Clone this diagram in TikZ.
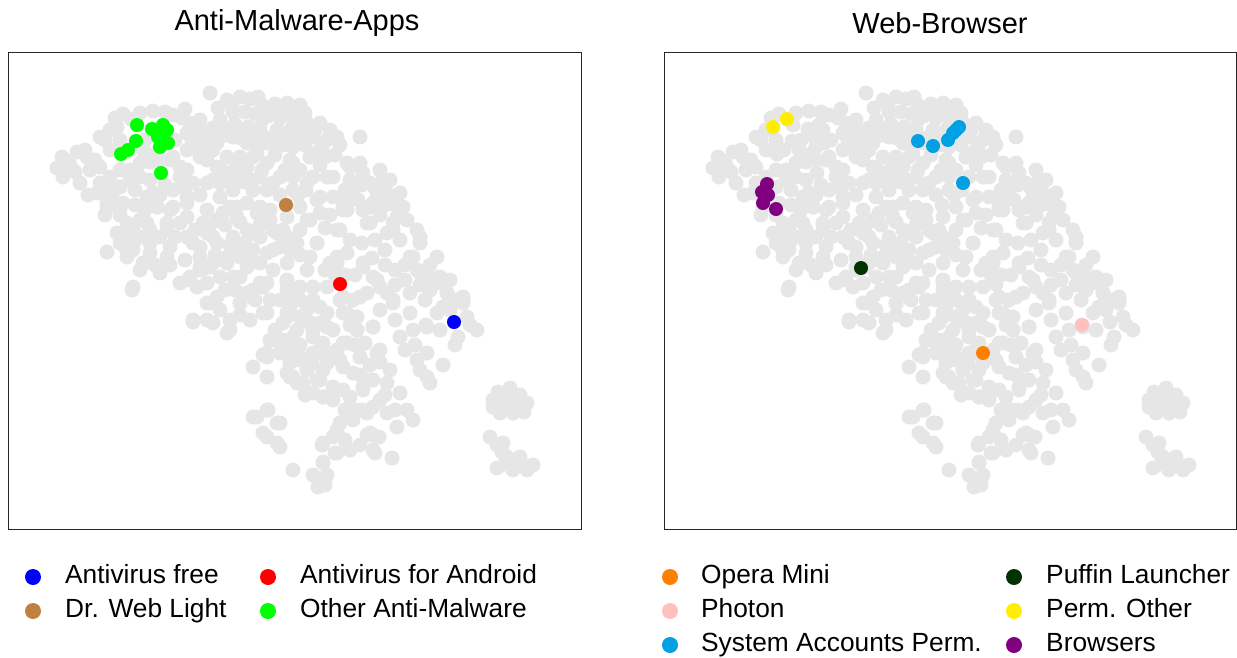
\documentclass[tikz,border=0pt]{standalone}
\usepackage{fontspec}
\setmainfont{Liberation Sans}
\definecolor{cloud}{RGB}{230,230,230}
\definecolor{cbrown}{RGB}{192,128,64}
\definecolor{corange}{RGB}{255,127,0}
\definecolor{cpink}{RGB}{255,192,192}
\definecolor{csky}{RGB}{0,160,226}
\definecolor{cdkgreen}{RGB}{0,51,0}
\definecolor{cyellow}{RGB}{255,238,0}
\definecolor{cpurple}{RGB}{128,0,128}
\tikzset{
  frame/.style={draw=black!85, line width=1pt},
  ttl/.style={font=\fontsize{29}{33}\selectfont, inner sep=0},
  leg/.style={font=\fontsize{26.3}{30}\selectfont, anchor=mid west, inner sep=0},
}
\def\graypts{210/93,227/100,240/97,250/99,262/105,275/104,287/103,300/105,233/112,245/112,255/114,268/116,280/118,293/117,307/123,320/123,330/130,220/120,235/124,248/127,260/128,213/128,205/138,225/135,240/138,255/140,270/138,283/133,300/133,313/137,327/140,360/137,337/137,283/145,293/147,310/157,317/153,293/163,327/177,347/163,360/163,350/167,363/173,380/170,383/180,387/193,373/203,400/193,403/207,393/223,370/223,340/197,317/200,310/220,337/230,343/210,353/197,283/230,297/243,317/243,347/253,337/263,363/267,377/280,413/257,420/237,417/230,437/257,420/273,437/283,447/293,463/297,287/283,377/197,370/207,397/217,407/220,393/230,420/243,410/257,417/270,430/277,440/277,430/290,463/300,333/197,347/210,340/230,350/197,
115/118,123/114,153/111,173/115,182/118,190/123,200/130,187/133,200/143,187/150,200/152,173/157,180/167,160/160,143/150,150/162,140/163,140/177,170/160,180/177,173/190,153/193,157/207,170/210,187/170,200/157,213/150,217/167,207/183,220/183,233/177,247/167,257/153,267/143,277/130,293/140,290/160,280/177,293/190,217/143,233/137,247/143,227/157,240/157,253/157,267/163,260/177,240/177,267/190,253/190,233/190,220/197,207/210,230/207,247/203,257/213,237/217,217/220,100/137,105/140,110/130,
62/157,57/168,77/152,87/157,90/170,63/177,80/183,100/167,100/183,110/177,97/193,110/197,120/187,123/203,107/207,70/165,120/170,130/180,
117/233,127/223,140/220,150/230,167/230,180/223,187/237,207/233,200/247,217/243,233/237,247/230,260/237,273/230,287/237,290/250,273/250,253/250,240/257,227/263,213/263,200/267,190/277,180/283,160/273,143/263,127/257,107/252,120/243,133/250,150/253,167/257,170/247,133/287,233/277,247/267,260/263,273/270,287/263,287/283,267/283,253/290,147/197,157/207,173/207,187/197,187/217,167/223,147/223,133/227,140/237,127/237,
287/217,307/220,320/213,343/207,367/223,387/233,383/197,370/183,317/243,337/257,363/263,373/277,387/293,393/303,360/297,343/297,330/263,347/313,357/317,373/327,380/350,357/330,343/343,360/357,327/327,320/307,327/287,307/270,313/287,287/280,293/297,307/310,287/317,297/330,280/343,313/337,320/353,300/357,267/357,263/313,240/303,247/293,260/283,240/277,250/263,267/253,280/247,293/240,277/233,253/233,240/250,227/257,210/267,200/270,190/280,207/283,220/277,217/297,207/303,193/320,213/323,230/320,227/333,203/223,213/237,193/243,223/213,237/207,260/207,253/190,233/187,213/180,193/183,187/203,273/183,293/177,313/177,333/177,353/190,320/197,300/207,390/180,
132/290,197/287,210/303,193/322,207/320,230/330,240/303,263/287,267/313,280/300,290/310,283/323,283/340,290/350,267/353,253/367,267/377,287/373,297/383,253/417,267/410,277/423,263/433,277/443,293/470,
263/355,280/353,290/363,290/377,307/370,303/383,317/380,323/397,327/363,320/350,337/350,347/343,343/367,353/373,360/357,350/397,363/387,370/380,362/410,373/407,377/353,370/433,373/450,257/417,268/410,280/423,267/437,280/447,337/430,340/423,333/437,322/445,335/453,323/463,313/475,327/475,318/487,325/485,320/480,
287/290,300/287,313/300,327/313,300/317,287/313,313/330,293/337,287/353,300/360,313/353,323/343,333/330,343/313,353/300,367/293,380/287,393/300,410/293,410/313,400/337,413/330,427/327,437/313,443/307,447/293,433/283,463/303,467/317,477/330,458/337,357/330,373/327,347/343,377/353,340/360,323/370,307/370,293/377,320/380,333/387,323/397,363/390,373/380,390/370,387/383,400/393,380/400,367/413,387/413,407/410,413/420,397/427,417/360,427/353,427/377,443/365,430/383,340/423,337/433,323/443,337/453,323/462,373/435,375/453,392/458,367/435,379/437,
493/400,507/393,520/395,527/403,513/413,500/413,493/407,505/403,517/404,510/388,498/392,524/412,490/437,497/445,503/443,507/457,520/457,533/465,513/470,497/468,527/470,505/464,
137/125,152/129,163/125,167/130,158/137,168/143,160/147,136/141,128/150,121/154,161/173,286/205,340/284,454/322,117/127,131/119,262/141,277/146,292/140,297/133,303/127,300/130,307/183,111/184,106/192,112/195,107/203,120/209,205/268,327/353,426/325}
\def\fillpts{218/108,232/105,258/97,270/110,282/110,295/110,305/113,315/130,322/148,305/145,292/128,262/120,250/133,237/130,223/128,214/140,200/120,192/140,207/160,222/170,236/167,250/180,262/170,275/155,285/170,300/170,306/190,298/195,320/165,335/155,340/145,325/157,350/180,345/190,362/185,375/188,385/205,395/205,380/215,363/210,358/200,330/215,325/228,350/240,362/243,375/240,385/250,400/240,405/265,395/270,385/265,372/258,355/275,345/275,335/275,325/270,310/257,300/255,300/230,270/220,260/225,245/243,230/245,215/255,200/257,185/260,170/265,155/265,140/270,150/243,135/240,125/247,160/237,175/237,195/230,210/225,225/225,240/222,270/210,280/195,245/182,225/180,200/195,185/188,165/185,150/180,135/190,130/170,145/140,157/152,175/140,185/109,165/112,140/113,120/140,110/150,95/160,75/172,88/195,105/215,120/215,135/205,145/210,160/195,65/160,85/150,
300/300,310/323,320/323,340/300,350/325,355/345,365/343,370/365,380/362,385/395,395/410,355/410,345/410,353/420,345/440,350/450,360/445,305/395,313/393,300/345,275/330,270/300,255/300,250/320,240/315,220/310,225/290,235/290,270/340,395/320,405/350,415/345,420/370,440/330,450/310,455/300,455/345,470/325,380/310,395/285,420/285,425/300,430/265,450/280,405/280,333/400,343/390,360/375,312/363,500/398,515/398,510/408,502/452,512/462,522/465}
\begin{document}
\begin{tikzpicture}[x=1pt,y=-1pt]
\useasboundingbox (0,0) rectangle (1237,657);
% gray clouds
\foreach \px/\py in \graypts {
  \fill[cloud] (\px,\py) circle[radius=7.5];
  \fill[cloud] (\px+656,\py) circle[radius=7.5];
}
\foreach \px/\py in \fillpts {
  \fill[cloud] (\px,\py) circle[radius=7.5];
  \fill[cloud] (\px+656,\py) circle[radius=7.5];
}
% frames
\draw[frame] (8,52) rectangle (581,529);
\draw[frame] (664,52) rectangle (1236,529);
% titles
\node[ttl] (t1) at (297,23) {Anti-Malware-Apps};
\node[ttl] (t2) at (940,23) {Web-Browser};
% left coloured points
\foreach \px/\py in {137/125,152/129,163/125,167/130,158/137,168/143,160/147,136/141,128/150,121/154,161/173}
  \fill[green] (\px,\py) circle[radius=7];
\fill[cbrown] (286,205) circle[radius=7];
\fill[red] (340,284) circle[radius=7];
\fill[blue] (454,322) circle[radius=7];
% right coloured points
\fill[cyellow] (773,127) circle[radius=7];
\fill[cyellow] (787,119) circle[radius=7];
\foreach \px/\py in {918/141,933/146,948/140,953/133,959/127,956/130,963/183}
  \fill[csky] (\px,\py) circle[radius=7];
\foreach \px/\py in {767/184,762/192,768/195,763/203,776/209}
  \fill[cpurple] (\px,\py) circle[radius=7];
\fill[cdkgreen] (861,268) circle[radius=7];
\fill[corange] (983,353) circle[radius=7];
\fill[cpink] (1082,325) circle[radius=7];
% left legend
\fill[blue] (33,577) circle[radius=8];
\node[leg] (l1) at (65,581) {Antivirus free};
\fill[cbrown] (33,611) circle[radius=8];
\node[leg] (l2) at (65,615) {Dr. Web Light};
\fill[red] (268,577) circle[radius=8];
\node[leg] (l3) at (300,581) {Antivirus for Android};
\fill[green] (268,611) circle[radius=8];
\node[leg] (l4) at (300,615) {Other Anti-Malware};
% right legend
\fill[corange] (670,577) circle[radius=8];
\node[leg] (r1) at (701,581) {Opera Mini};
\fill[cpink] (670,611) circle[radius=8];
\node[leg] (r2) at (701,615) {Photon};
\fill[csky] (670,645) circle[radius=8];
\node[leg] (r3) at (701,649) {System Accounts Perm.};
\fill[cdkgreen] (1014,577) circle[radius=8];
\node[leg] (r4) at (1046,581) {Puffin Launcher};
\fill[cyellow] (1014,611) circle[radius=8];
\node[leg] (r5) at (1046,615) {Perm. Other};
\fill[cpurple] (1014,645) circle[radius=8];
\node[leg] (r6) at (1046,649) {Browsers};
\end{tikzpicture}
\end{document}
